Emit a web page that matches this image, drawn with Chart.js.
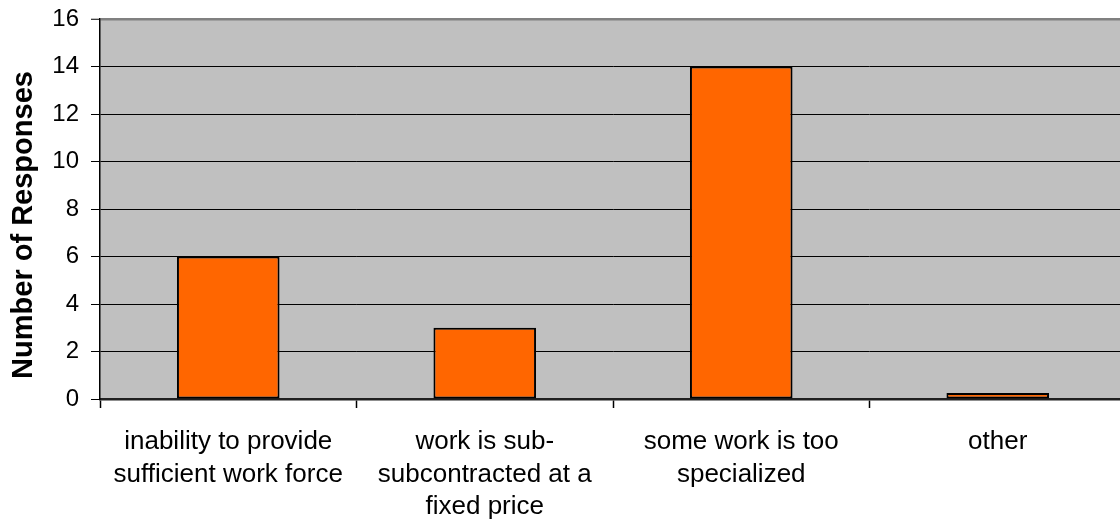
<!DOCTYPE html>
<html>
<head>
<meta charset="utf-8">
<script src="https://cdn.jsdelivr.net/npm/chart.js@4/dist/chart.umd.min.js"></script>
<style>
  html, body { margin: 0; padding: 0; background: #ffffff; overflow: hidden; }
  #wrap { position: relative; width: 1127px; height: 523px; }
</style>
</head>
<body>
<div id="wrap"><canvas id="c"></canvas></div>
<script>
// Reasons given for subcontracting work
const categories = [
  ['inability to provide', 'sufficient work force'],
  ['work is sub-', 'subcontracted at a', 'fixed price'],
  ['some work is too', 'specialized'],
  'other'
];
const responses = [6, 3, 14, 0.25];
const yTicks = [0, 2, 4, 6, 8, 10, 12, 14, 16];
const yAxisTitle = 'Number of Responses';
const Y_MAX = 16;

const FONT = '"Liberation Sans", Arial, sans-serif';

// Gray plot area behind the bars
const plotBackground = {
  id: 'plotBackground',
  beforeDraw(chart) {
    const { ctx, chartArea: a } = chart;
    ctx.save();
    ctx.fillStyle = '#c0c0c0';
    ctx.fillRect(a.left, a.top, a.right - a.left, a.bottom - a.top);
    ctx.restore();
  }
};

// Rotated value-axis title, set a little below the plot's middle
const axisTitle = {
  id: 'axisTitle',
  afterDraw(chart) {
    const { ctx, chartArea: a } = chart;
    ctx.save();
    ctx.translate(24, (a.top + a.bottom) / 2 + 16);
    ctx.rotate(-Math.PI / 2);
    ctx.fillStyle = '#000000';
    ctx.font = 'bold 29px ' + FONT;
    ctx.textAlign = 'center';
    ctx.textBaseline = 'middle';
    ctx.fillText(yAxisTitle, 0, 0);
    ctx.restore();
  }
};

new Chart(document.getElementById('c'), {
  type: 'bar',
  data: {
    labels: categories,
    datasets: [{
      data: responses,
      backgroundColor: '#ff6600',
      borderColor: '#000000',
      borderWidth: 2,
      borderSkipped: false,
      barPercentage: 0.4,
      categoryPercentage: 1.0
    }]
  },
  options: {
    responsive: true,
    maintainAspectRatio: false,
    animation: false,
    layout: { padding: { top: 19, right: 1, left: 0, bottom: 0 } },
    plugins: {
      legend: { display: false },
      tooltip: { enabled: false }
    },
    scales: {
      x: {
        offset: true,
        afterFit(scale) { scale.height = 124; },
        grid: {
          offset: true,
          drawOnChartArea: false,
          color: '#000000',
          tickLength: 9,
          tickWidth: 1.5
        },
        border: { color: '#202020', width: 2.5 },
        ticks: {
          color: '#000000',
          padding: 18,
          maxRotation: 0,
          autoSkip: false,
          font: { family: FONT, size: 26, lineHeight: 1.25 }
        }
      },
      y: {
        min: 0,
        max: Y_MAX,
        afterFit(scale) {
          scale.width = 100;
          scale.paddingTop = 0;
          scale.paddingBottom = 0;
        },
        afterBuildTicks(scale) { scale.ticks = yTicks.map(v => ({ value: v })); },
        grid: {
          color: ctx => (ctx.tick && ctx.tick.value === Y_MAX ? '#808080' : '#000000'),
          lineWidth: ctx => (ctx.tick && ctx.tick.value === Y_MAX ? 2.5 : 1),
          tickColor: '#000000',
          tickWidth: 1,
          tickLength: 9
        },
        border: { color: '#000000', width: 1.5 },
        ticks: {
          color: '#000000',
          padding: 12,
          font: { family: FONT, size: 24 }
        },
        title: { display: false }
      }
    }
  },
  plugins: [plotBackground, axisTitle]
});
</script>
</body>
</html>
